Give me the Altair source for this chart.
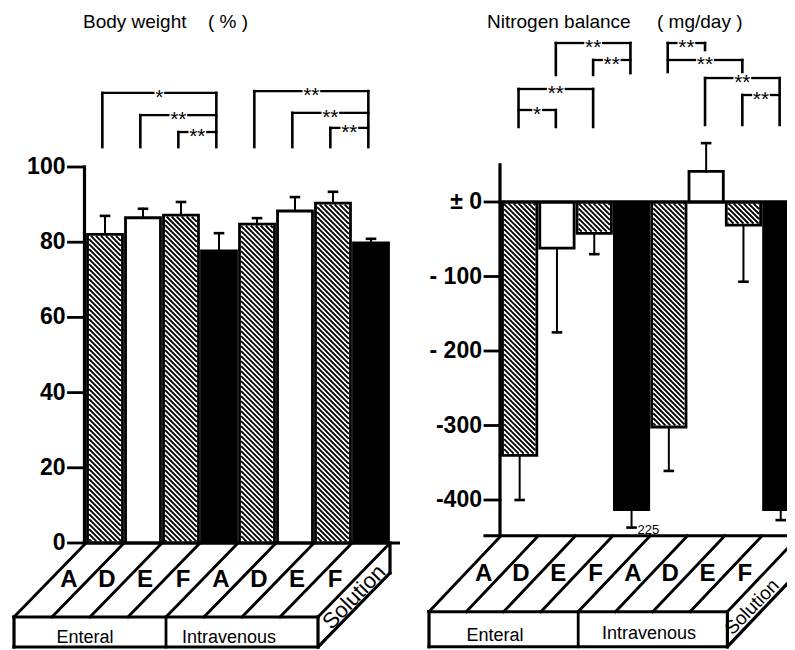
import math
import altair as alt
import pandas as pd

# ---------------- data ----------------
groups = ["A", "D", "E", "F", "A", "D", "E", "F"]
routes = ["Enteral", "Intravenous"]
side_label = "Solution"
styles = ["hatch", "white", "hatch", "black", "hatch", "white", "hatch", "black"]

bw_mean = [82.1, 86.5, 87.2, 77.7, 84.8, 88.3, 90.4, 79.8]
bw_sd = [4.9, 2.4, 3.5, 4.7, 1.6, 3.7, 3.0, 1.1]
nb_mean = [-340, -62, -42, -413, -302, 41, -31, -413]
nb_sd = [60, 113, 28, 225, 59, 38, 76, 14]

bw_ticks = [0, 20, 40, 60, 80, 100]
bw_tick_labels = ["0", "20", "40", "60", "80", "100"]
nb_ticks = [0, -100, -200, -300, -400]
nb_tick_labels = ["± 0", "- 100", "- 200", "-300", "-400"]

bw_title = ["Body weight", "( % )"]
nb_title = ["Nitrogen balance", "( mg/day )"]

# significance brackets: (bar i, bar j, label)
bw_sig = [(0, 3, "*"), (1, 3, "**"), (2, 3, "**"),
          (4, 7, "**"), (5, 7, "**"), (6, 7, "**")]
nb_sig = [(0, 2, "**"), (0, 1, "*"), (1, 3, "**"), (2, 3, "**"),
          (4, 5, "**"), (4, 6, "**"), (5, 7, "**"), (6, 7, "**")]

# ---------------- layout ----------------
# bracket layout: (level, left-leg bottom, right-leg bottom) in data units
bw_br_layout = [(119.7, 105.3, 105.3), (113.8, 105.3, None), (109.3, 105.3, None),
                (120.2, 105.3, 105.3), (114.4, 105.3, None), (110.4, 105.3, None)]
nb_br_layout = [(151.7, 100.7, 100.7), (123.5, None, 100.7), (213.4, 170.5, 173.0),
                (190.6, 170.5, None), (213.4, 174.5, 204.0), (190.6, None, 174.5),
                (166.4, 103.4, 103.4), (143.6, 103.4, None)]

FONT = "Liberation Sans"

LEFT = dict(x0=86, pxu=38.0, y0=543, pxv=3.76, left=8, right=400, top=8, bottom=650,
            axis_u=-0.04, axis_lo=0, axis_hi=100, tick_px=16, leg_off=0.43,
            back_v=0, back_from_px=84, slant_px=72, depth_px=74, face_px=30,
            zero_line=False, err_floor=None,
            title_px=[(83, 22), (208, 22)],
            route_px=[(85, 638), (229, 638)], side_px=(354, 597), side_size=22)
RIGHT = dict(x0=501, pxu=37.3, y0=202, pxv=0.745, left=400, right=787, top=8, bottom=650,
             axis_u=-0.027, axis_lo=-448, axis_hi=50, tick_px=15, leg_off=0.47,
             back_v=-448, back_from_px=485, slant_px=72, depth_px=76, face_px=35,
             zero_line=True, err_floor=-437,
             title_px=[(487, 22), (657, 22)],
             route_px=[(495, 636), (649, 634)], side_px=(752, 607), side_size=19)


def build(P, means, sds, tick_vals, tick_labels, sig, br_layout, title):
    U = lambda px: (px - P["x0"]) / P["pxu"]
    V = lambda py: (P["y0"] - py) / P["pxv"]
    PX = lambda u: P["x0"] + u * P["pxu"]
    PY = lambda v: P["y0"] - v * P["pxv"]
    xs = alt.Scale(domain=[U(P["left"]), U(P["right"])], nice=False, zero=False)
    ys = alt.Scale(domain=[V(P["bottom"]), V(P["top"])], nice=False, zero=False)
    W = P["right"] - P["left"]
    H = P["bottom"] - P["top"]
    X = lambda f="x": alt.X(f + ":Q", scale=xs, axis=None)
    Y = lambda f="y": alt.Y(f + ":Q", scale=ys, axis=None)

    segs, hatch, texts = [], [], {}

    def seg(u1, v1, u2, v2, w, lst=segs):
        lst.append(dict(x=u1, y=v1, x2=u2, y2=v2, w=w))

    def txt(style, u, v, t):
        texts.setdefault(style, []).append(dict(x=u, y=v, text=t))

    inset = 0.04
    bars = []
    for i, (m, s, st) in enumerate(zip(means, sds, styles)):
        bars.append(dict(x=i + inset, x2=i + 1 - inset, y=0, y2=m,
                         fill="black" if st == "black" else "white"))
        if st == "hatch":
            X0, X1 = PX(i + inset) + 1.6, PX(i + 1 - inset) - 1.6
            Ya, Yb = min(PY(0), PY(m)) + 1.6, max(PY(0), PY(m)) - 1.6
            step = 5.0
            k0 = math.ceil((Ya - X1) / step)
            k1 = math.floor((Yb - X0) / step)
            for k in range(k0, k1 + 1):
                c = k * step
                xa, xb = max(X0, Ya - c), min(X1, Yb - c)
                if xb > xa + 0.3:
                    seg(U(xa), V(xa + c), U(xb), V(xb + c), 1.9, hatch)
        # error bar
        end = m + s if m >= 0 else m - s
        clipped = False
        if P["err_floor"] is not None and end < P["err_floor"]:
            end, clipped = P["err_floor"], True
        cx = i + 0.5
        cap = 4.0 / P["pxu"]
        seg(cx, m, cx, end, 2.0)
        seg(cx - cap, end, cx + cap, end, 2.6)
        if clipped:
            txt("small", cx + 6 / P["pxu"], end, str(s))

    # y axis
    a = P["axis_u"]
    seg(a, P["axis_lo"], a, P["axis_hi"], 3.2)
    for t, lab in zip(tick_vals, tick_labels):
        seg(a - P["tick_px"] / P["pxu"], t, a, t, 2.8)
        txt("tick", U(PX(a) - P["tick_px"] - 3), t, lab)
    if P["zero_line"]:
        seg(a, 0, 8.6, 0, 3.2)

    # platform (3-D base with the group labels)
    sl = P["slant_px"] / P["pxu"]
    bv = P["back_v"]
    fv = bv - P["depth_px"] / P["pxv"]
    face = P["face_px"] / P["pxv"]
    n = len(groups)
    seg(U(P["back_from_px"]), bv, n + 0.6, bv, 3.2)
    for k in range(n + 1):
        seg(k, bv, k - sl, fv, 2.9)
    seg(-sl, fv, n - sl, fv, 3.2)
    seg(-sl, fv, -sl, fv - face, 3.2)
    seg(n - sl, fv, n - sl, fv - face, 3.2)
    seg(n / 2 - sl, fv, n / 2 - sl, fv - face, 2.8)
    seg(-sl, fv - face, n - sl, fv - face, 3.2)
    seg(n, bv, n, bv - face, 3.2)
    seg(n, bv - face, n - sl, fv - face, 3.2)
    for k, g in enumerate(groups):
        txt("group", k + 0.5 - sl / 2, (bv + fv) / 2, g)
    for (px, py), r in zip(P["route_px"], routes):
        txt("route", U(px), V(py), r)
    txt("side", U(P["side_px"][0]), V(P["side_px"][1]), side_label)

    # titles
    for (px, py), t in zip(P["title_px"], title):
        txt("title", U(px), V(py), t)

    # significance brackets
    for (i, j, lab), (lev, lb, rb) in zip(sig, br_layout):
        xl, xr = i + P["leg_off"], j + P["leg_off"]
        mid = (xl + xr) / 2
        gap = (10 if len(lab) == 2 else 6) / P["pxu"]
        seg(xl, lev, mid - gap, lev, 2.3)
        seg(mid + gap, lev, xr, lev, 2.3)
        if lb is not None:
            seg(xl, lev, xl, lb, 2.6)
        if rb is not None:
            seg(xr, lev, xr, rb, 2.6)
        txt("star", mid, lev, lab)

    rect_layer = alt.Chart(pd.DataFrame(bars)).mark_rect(
        stroke="black", strokeWidth=2.8, strokeJoin="miter", clip=True).encode(
        x=X(), x2="x2", y=Y(), y2="y2", fill=alt.Fill("fill:N", scale=None))
    hatch_layer = alt.Chart(pd.DataFrame(hatch)).mark_rule(
        color="black", strokeCap="butt", clip=True).encode(
        x=X(), x2="x2", y=Y(), y2="y2", strokeWidth=alt.StrokeWidth("w:Q", scale=None))
    seg_layer = alt.Chart(pd.DataFrame(segs)).mark_rule(
        color="black", strokeCap="square", clip=True).encode(
        x=X(), x2="x2", y=Y(), y2="y2", strokeWidth=alt.StrokeWidth("w:Q", scale=None))

    tstyles = {
        "tick": dict(font=FONT, fontSize=23, fontWeight="bold", align="right", baseline="middle"),
        "group": dict(font=FONT, fontSize=24, fontWeight="bold", align="center", baseline="middle"),
        "route": dict(font=FONT, fontSize=18, align="center", baseline="middle"),
        "side": dict(font=FONT, fontSize=P["side_size"], align="center", baseline="middle", angle=314),
        "title": dict(font=FONT, fontSize=19, align="left", baseline="middle"),
        "star": dict(font=FONT, fontSize=21, align="center", baseline="alphabetic", dy=11),
        "small": dict(font=FONT, fontSize=13, align="left", baseline="middle", dy=2),
    }
    layers = [rect_layer, hatch_layer, seg_layer]
    for st, rows in texts.items():
        layers.append(alt.Chart(pd.DataFrame(rows)).mark_text(
            color="black", clip=True, **tstyles[st]).encode(
            x=X(), y=Y(), text="text:N"))
    return alt.layer(*layers).properties(width=W, height=H)


left = build(LEFT, bw_mean, bw_sd, bw_ticks, bw_tick_labels, bw_sig, bw_br_layout, bw_title)
right = build(RIGHT, nb_mean, nb_sd, nb_ticks, nb_tick_labels, nb_sig, nb_br_layout, nb_title)

chart = alt.hconcat(left, right, spacing=0).properties(
    padding=0
).configure_view(stroke=None)

chart.save("out.html", embed_options={"renderer": "svg", "actions": False})
